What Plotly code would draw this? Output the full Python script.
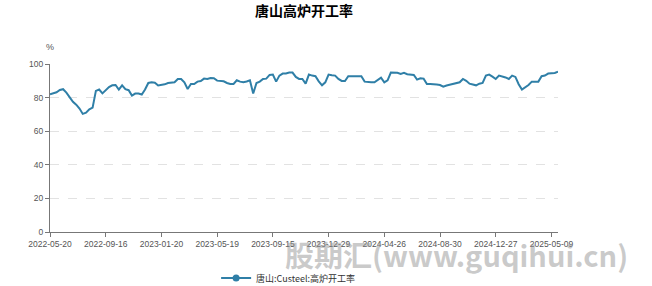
import pandas as pd
import plotly.graph_objects as go

title = "唐山高炉开工率"
series_name = "唐山:Custeel:高炉开工率"
unit = "%"
tick_labels = ["2022-05-20", "2022-09-16", "2023-01-20", "2023-05-19", "2023-09-15",
               "2023-12-29", "2024-04-26", "2024-08-30", "2024-12-27", "2025-05-09"]
last_date = "2025-05-16"
values = [
    82.0, 82.6, 83.2, 84.5, 85.0, 83.0, 80.0, 77.5, 75.8, 73.5,
    70.3, 71.0, 73.0, 74.0, 84.0, 84.8, 82.5, 84.5, 86.3, 87.3,
    87.5, 84.8, 87.3, 85.0, 84.4, 81.2, 82.4, 82.4, 81.8, 84.8,
    88.7, 89.1, 88.9, 87.2, 87.5, 87.9, 88.7, 89.1, 89.1, 91.1,
    91.1, 89.1, 85.1, 88.1, 88.1, 89.5, 89.9, 91.3, 91.1, 91.7,
    91.5, 90.1, 89.9, 89.7, 88.7, 88.1, 88.1, 90.3, 89.5, 89.1,
    89.6, 90.3, 82.4, 88.7, 89.5, 91.1, 91.3, 93.5, 93.7, 89.5,
    93.1, 94.3, 94.3, 94.9, 94.9, 92.3, 91.1, 91.1, 88.3, 93.7,
    93.1, 92.7, 89.7, 87.3, 89.1, 93.7, 93.3, 93.1, 91.1, 89.9,
    89.9, 92.7, 92.7, 92.7, 92.7, 92.7, 89.5, 89.1, 89.1, 89.1,
    90.5, 91.9, 89.1, 90.3, 94.9, 94.9, 94.8, 94.1, 94.7, 93.9,
    93.7, 93.5, 90.7, 91.5, 91.3, 88.1, 88.1, 88.1, 87.8, 87.5,
    86.5, 87.2, 87.7, 88.3, 88.5, 89.1, 91.1, 90.0, 88.3, 88.0,
    87.3, 88.3, 88.7, 93.1, 93.7, 92.5, 91.1, 93.1, 92.7, 92.0,
    91.1, 93.1, 92.3, 88.0, 84.8, 86.0, 87.5, 89.5, 89.5, 89.5,
    92.7, 93.1, 94.3, 94.5, 94.7, 95.4,
]

# build category dates: 17 weekly-ish categories between consecutive tick labels
dates = []
for a, b in zip(tick_labels[:-1], tick_labels[1:]):
    rng = pd.date_range(a, b, periods=18)[:-1]
    dates.extend(d.strftime("%Y-%m-%d") for d in rng)
dates.append(tick_labels[-1])
for d in pd.date_range(tick_labels[-1], last_date, periods=len(values) - len(dates) + 1)[1:]:
    dates.append(d.strftime("%Y-%m-%d"))

line_color = "#2f7fa7"
fig = go.Figure()
fig.add_trace(go.Scatter(
    x=dates, y=values, mode="lines", name=series_name,
    line=dict(color=line_color, width=2), showlegend=False,
))
# legend entry with marker
fig.add_trace(go.Scatter(
    x=[None], y=[None], mode="lines+markers", name=series_name,
    line=dict(color=line_color, width=2), marker=dict(size=7, color=line_color),
))

fig.update_layout(
    width=652, height=286,
    margin=dict(l=50, r=94, t=64, b=54, autoexpand=False),
    paper_bgcolor="white", plot_bgcolor="white",
    title=dict(text=f"<b>{title}</b>", x=0.5, xref="paper", xanchor="center",
               y=1 - 11 / 286, yref="container", yanchor="middle",
               font=dict(family="Noto Sans CJK SC", size=14, color="#000")),
    xaxis=dict(type="category", range=[0, len(values) - 1],
               tickmode="array", tickvals=tick_labels, ticktext=tick_labels,
               showgrid=False, showline=True, linecolor="#777", linewidth=1,
               ticks="outside", ticklen=4, tickcolor="#777",
               tickfont=dict(family="Liberation Sans", size=8.5, color="#555")),
    yaxis=dict(range=[0, 100], tickvals=[0, 20, 40, 60, 80, 100],
               showgrid=True, gridcolor="#e2e2e2", griddash="dash", gridwidth=1,
               showline=True, linecolor="#777", linewidth=1, zeroline=False,
               ticks="outside", ticklen=4, tickcolor="#777",
               tickfont=dict(family="Liberation Sans", size=8.5, color="#555")),
    legend=dict(orientation="h", x=0.327, xanchor="left", y=-0.274, yanchor="middle",
                font=dict(family="Noto Sans CJK SC", size=9, color="#333"),
                bgcolor="rgba(0,0,0,0)"),
    showlegend=True,
)
fig.add_annotation(text=unit, xref="paper", yref="paper", x=0, y=1.10,
                   showarrow=False, xanchor="center", yanchor="middle",
                   font=dict(family="Liberation Sans", size=9, color="#555"))
fig.add_annotation(text="<b>股期汇(www.guqihui.cn)</b>", xref="paper", yref="paper",
                   x=0.80, y=-0.128, showarrow=False, xanchor="center", yanchor="middle",
                   font=dict(family="Noto Sans CJK SC", size=29, color="rgba(150,150,150,0.5)"))

fig.write_html("out.html")
